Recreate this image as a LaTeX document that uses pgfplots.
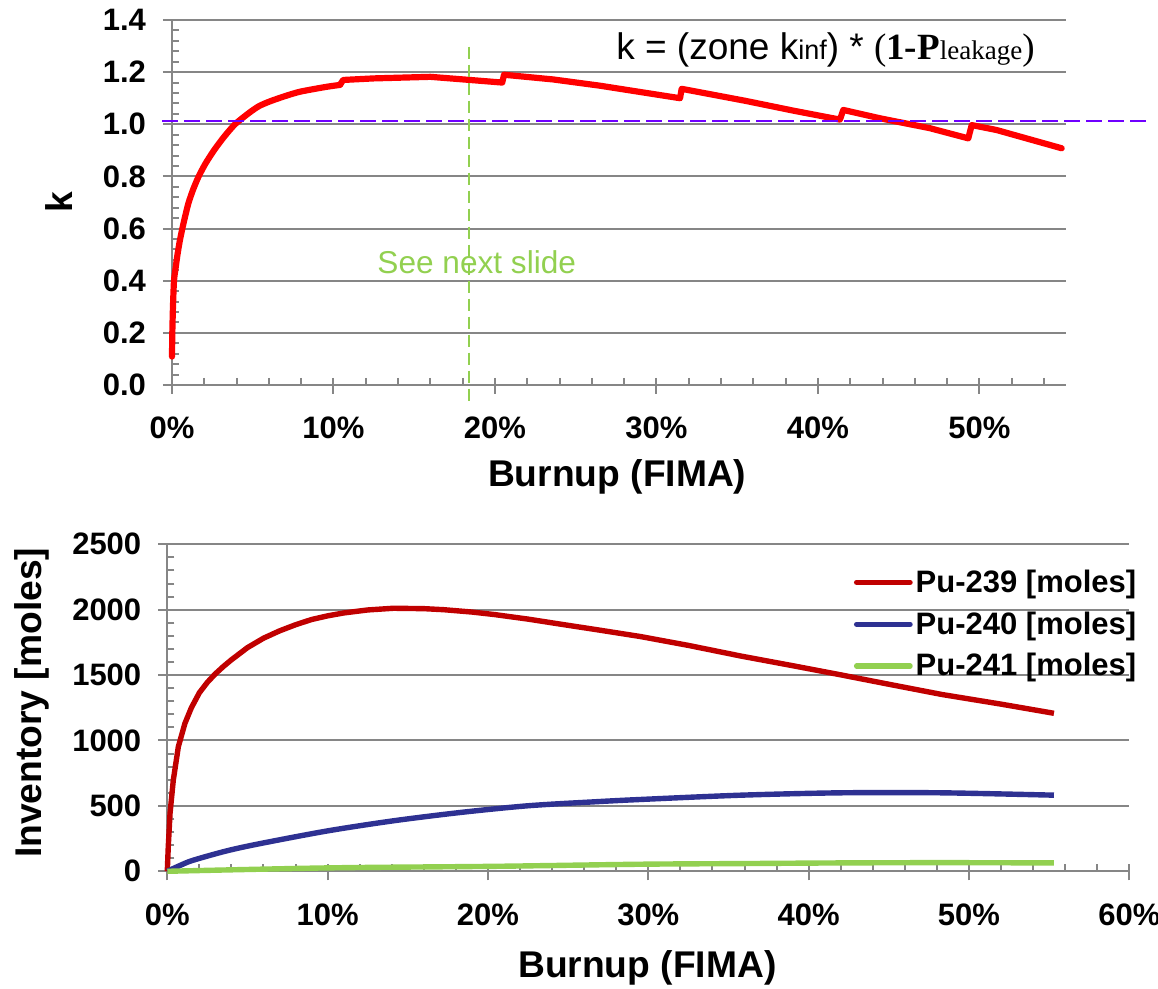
\documentclass[border=0pt]{standalone}
\usepackage{fontspec}
\setmainfont{Liberation Sans}
\newfontfamily\timesfont{Liberation Serif}
\usepackage{pgfplots}
\pgfplotsset{compat=1.18}

\definecolor{gridgray}{RGB}{134,134,134}
\definecolor{kred}{RGB}{255,0,0}
\definecolor{violetline}{RGB}{112,0,255}
\definecolor{limegreen}{RGB}{146,208,80}
\definecolor{pured}{RGB}{192,0,0}
\definecolor{publue}{RGB}{46,49,146}

\pgfplotsset{
  burnupaxis/.style={
    scale only axis,
    axis x line*=bottom, axis y line*=left,
    axis line style={gridgray, line width=1pt},
    ymajorgrids=true, major grid style={gridgray, line width=1pt},
    tick align=outside, major tick length=4.5pt, minor tick length=-3.5pt,
    tick style={gridgray, line width=1pt},
    /pgf/number format/assume math mode=true,
    tick label style={font=\bfseries\fontsize{15.5}{18}\selectfont},
    label style={font=\bfseries\fontsize{18.6}{22}\selectfont},
    xticklabel shift=8pt, yticklabel shift=5pt,
    clip=false,
  }
}

\begin{document}
\begin{tikzpicture}
\useasboundingbox (-86pt,-302pt) rectangle (493pt,192.5pt);

% k versus burnup
\begin{axis}[burnupaxis,
  at={(0pt,0pt)}, anchor=south west,
  width=447pt, height=182.5pt,
  xmin=0, xmax=0.5536, ymin=0, ymax=1.4,
  xtick={0,0.1,0.2,0.3,0.4,0.5},
  xticklabels={0\%,10\%,20\%,30\%,40\%,50\%},
  minor xtick={0,0.02,0.04,0.06,0.08,0.1,0.12,0.14,0.16,0.18,0.2,0.22,0.24,0.26,0.28,0.3,0.32,0.34,0.36,0.38,0.4,0.42,0.44,0.46,0.48,0.5,0.52,0.54},
  ytick={0,0.2,0.4,0.6,0.8,1.0,1.2,1.4},
  minor ytick={0.04,0.08,0.12,0.16,0.24,0.28,0.32,0.36,0.44,0.48,0.52,0.56,0.64,0.68,0.72,0.76,0.84,0.88,0.92,0.96,1.04,1.08,1.12,1.16,1.24,1.28,1.32,1.36},
  yticklabel style={/pgf/number format/.cd, fixed, fixed zerofill, precision=1},
  xlabel={Burnup (FIMA)}, ylabel={k},
  xlabel style={at={(axis description cs:0.498,-0.277)}, anchor=base},
  ylabel style={at={(axis description cs:-0.1267,0.5)}, anchor=center},
]
\addplot[kred, line width=3.1pt, line join=round, line cap=round, smooth, tension=0.4] coordinates {
(0.0000,0.109) (0.0002,0.200) (0.0006,0.300) (0.00124,0.400) (0.00227,0.450)
(0.0034,0.500) (0.00475,0.550) (0.0064,0.600) (0.00826,0.650) (0.0103,0.700)
(0.0131,0.750) (0.0165,0.800) (0.0208,0.850) (0.0260,0.900) (0.0320,0.950)
(0.0390,1.000) (0.0480,1.045) (0.0540,1.070) (0.0607,1.088) (0.0700,1.108)
(0.0793,1.125) (0.0950,1.143) (0.1040,1.151)};
\addplot[kred, line width=3.1pt, line join=round, line cap=round] coordinates {
(0.1040,1.151)
(0.1060,1.170) (0.1250,1.176) (0.1600,1.182) (0.1845,1.170) (0.2045,1.160)
(0.2056,1.190) (0.2360,1.172) (0.2650,1.148) (0.2815,1.132) (0.3146,1.100)
(0.3156,1.136) (0.3550,1.090) (0.3850,1.052) (0.4136,1.018) (0.4157,1.055)
(0.4384,1.023) (0.4693,0.985) (0.4931,0.946) (0.4952,0.997) (0.5106,0.978)
(0.5509,0.908)};
\addplot[violetline, line width=1pt, dash pattern=on 7.8pt off 3.2pt] coordinates {(-0.006,1.014) (0.606,1.014)};
\addplot[limegreen, line width=0.75pt, dash pattern=on 6pt off 3pt] coordinates {(0.184,1.298) (0.184,-0.064)};
\node[limegreen, font=\fontsize{15.8}{18}\selectfont, anchor=base] at (axis cs:0.1887,0.428) {See next slide};
\node[anchor=base east, inner sep=0pt, font=\fontsize{18.5}{22}\selectfont] at (axis cs:0.5344,1.247)
  {k = (zone k{\fontsize{13.5}{16}\selectfont inf}) * {\timesfont({\bfseries 1-P}{\fontsize{13.5}{16}\selectfont leakage})}};
\end{axis}

% Pu inventories versus burnup
\begin{axis}[burnupaxis,
  at={(-2.35pt,-243.15pt)}, anchor=south west,
  width=481pt, height=163.5pt,
  xmin=0, xmax=0.6, ymin=0, ymax=2500,
  xtick={0,0.1,0.2,0.3,0.4,0.5,0.6},
  xticklabels={0\%,10\%,20\%,30\%,40\%,50\%,60\%},
  minor xtick={0,0.02,0.04,0.06,0.08,0.1,0.12,0.14,0.16,0.18,0.2,0.22,0.24,0.26,0.28,0.3,0.32,0.34,0.36,0.38,0.4,0.42,0.44,0.46,0.48,0.5,0.52,0.54,0.56,0.58,0.6},
  ytick={0,500,1000,1500,2000,2500},
  minor ytick={100,200,300,400,600,700,800,900,1100,1200,1300,1400,1600,1700,1800,1900,2100,2200,2300,2400},
  scaled y ticks=false,
  yticklabel style={/pgf/number format/1000 sep={}},
  xlabel={Burnup (FIMA)}, ylabel={Inventory [moles]},
  xlabel style={at={(axis description cs:0.499,-0.326)}, anchor=base},
  ylabel style={at={(axis description cs:-0.141,0.515)}, anchor=center},
  legend style={at={(axis description cs:1.017,0.945)}, anchor=north east,
    draw=none, fill=none, font=\bfseries\fontsize{15.5}{18}\selectfont,
    row sep=5.2pt, nodes={inner sep=1.5pt}},
  legend cell align=left,
  legend image code/.code={\draw[#1, line cap=round] (0pt,0pt) -- (26.7pt,0pt);},
]
\addplot[pured, line width=2.7pt, line join=round] coordinates {
(0,0) (0.0006,186) (0.0017,442) (0.00375,697) (0.0069,953) (0.011,1131)
(0.015,1250) (0.02,1365) (0.025,1445) (0.03,1510) (0.035,1566) (0.04,1617)
(0.05,1710) (0.06,1782) (0.07,1838) (0.08,1885) (0.09,1925) (0.10,1953)
(0.11,1975) (0.125,1998) (0.141,2011) (0.16,2008) (0.1725,2000) (0.19,1982)
(0.204,1963) (0.225,1928) (0.245,1890) (0.27,1843) (0.295,1795) (0.325,1727)
(0.358,1645) (0.39,1572) (0.42,1502) (0.45,1430) (0.483,1352) (0.52,1278)
(0.553,1208)};
\addlegendentry{Pu-239 [moles]}
\addplot[publue, line width=2.7pt, line join=round, smooth, tension=0.5] coordinates {
(0,0) (0.008,45) (0.016,84) (0.037,156) (0.058,212) (0.10,309) (0.141,386) (0.183,450)
(0.225,501) (0.266,531) (0.295,549) (0.358,582) (0.42,600) (0.483,600) (0.553,582)};
\addlegendentry{Pu-240 [moles]}
\addplot[limegreen, line width=2.7pt, line join=round, smooth, tension=0.5] coordinates {
(0,0) (0.10,26) (0.204,38) (0.295,54) (0.358,59) (0.42,64) (0.483,66) (0.553,64)};
\addlegendentry{Pu-241 [moles]}
\end{axis}
\end{tikzpicture}
\end{document}
